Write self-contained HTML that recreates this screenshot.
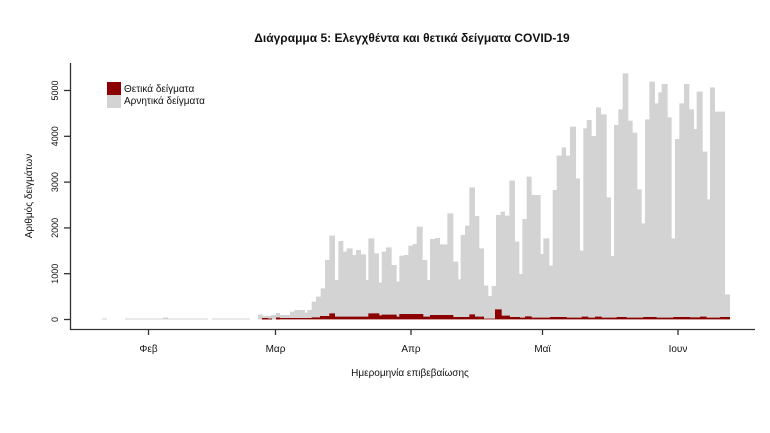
<!DOCTYPE html>
<html><head><meta charset="utf-8"><style>
html,body{margin:0;padding:0;background:#fff;width:770px;height:433px;overflow:hidden}
svg text{font-family:"Liberation Sans","DejaVu Sans",sans-serif;fill:#111}
</style></head><body>
<svg width="770" height="433" viewBox="0 0 770 433" xmlns="http://www.w3.org/2000/svg">
<text x="385" y="-2" font-size="10" fill="#3355cc" text-anchor="middle">.</text>
<text x="412" y="42" font-size="12" font-weight="bold" text-anchor="middle">Διάγραμμα 5: Ελεγχθέντα και θετικά δείγματα COVID-19</text>
<!-- small early bars -->
<g fill="#d3d3d3">
<rect x="102" y="318.5" width="5" height="1"/>
<rect x="125" y="318.5" width="83" height="1"/>
<rect x="163" y="317.5" width="5" height="2"/>
<rect x="212" y="318.5" width="38" height="1"/>
<rect x="258" y="314.5" width="5" height="5"/>
<rect x="263" y="316" width="8" height="3.5"/>
<rect x="271" y="315" width="5" height="4.5"/>
<rect x="276" y="313" width="4" height="6.5"/>
</g>
<g transform="translate(280,60) scale(0.33333)" fill="#d3d3d3">
<path id="g" d="M0,778 V765 H30 V755 H43 V750 H75 V758 H82 V750 H95 V725 H108 V710 H122 V685 H135 V600 H148 V527 H165 V660 H175 V543 H190 V575 H200 V565 H218 V585 H228 V570 H243 V583 H258 V660 H265 V535 H283 V580 H297 V668 H305 V575 H318 V562 H335 V615 H350 V665 H358 V587 H372 V585 H385 V557 H398 V552 H410 V500 H428 V600 H442 V660 H450 V537 H465 V534 H480 V553 H502 V460 H520 V605 H535 V658 H542 V525 H555 V497 H568 V382 H585 V468 H598 V565 H612 V677 H625 V708 H635 V678 H648 V465 H662 V455 H675 V467 H688 V362 H705 V545 H718 V642 H727 V477 H740 V350 H755 V405 H782 V582 H790 V535 H808 V617 H818 V390 H830 V287 H845 V262 H858 V287 H870 V200 H888 V355 H900 V572 H910 V205 H920 V180 H935 V228 H948 V142 H963 V163 H980 V412 H993 V588 H1002 V195 H1015 V148 H1028 V40 H1045 V182 H1058 V218 H1072 V388 H1085 V490 H1095 V178 H1108 V65 H1125 V130 H1135 V97 H1145 V72 H1163 V172 H1175 V535 H1185 V237 H1198 V130 H1212 V72 H1228 V148 H1242 V207 H1250 V95 H1268 V275 H1282 V418 H1290 V82 H1305 V155 H1335 V703 H1350 V778 Z"/>
</g>
<g transform="translate(280,60) scale(0.33333)" fill="#8b0000">
<path d="M0,778 V774 H95 V772 H120 V768 H148 V760 H165 V770 H265 V760 H298 V766 H305 V764 H350 V770 H358 V762 H430 V770 H450 V765 H520 V771 H568 V763 H585 V770 H612 V776 H645 V748 H665 V767 H690 V771 H720 V773 H735 V769 H755 V773 H810 V771 H860 V773 H905 V770 H925 V773 H945 V770 H965 V773 H1010 V771 H1040 V773 H1090 V771 H1130 V773 H1180 V771 H1230 V772 H1260 V770 H1280 V773 H1320 V771 H1350 V778 Z"/>
</g>
<g fill="#8b0000">
<rect x="262" y="318" width="6" height="1.5"/>
<rect x="268" y="318.5" width="4" height="1"/>
<rect x="276" y="317.5" width="4" height="2"/>
</g>
<!-- axes -->
<g stroke="#333" stroke-width="1.3" fill="none">
<line x1="70.5" y1="63" x2="70.5" y2="329.5"/>
<line x1="70" y1="329.5" x2="755" y2="329.5"/>
<line x1="64" y1="319.5" x2="70.5" y2="319.5"/>
<line x1="64" y1="273.7" x2="70.5" y2="273.7"/>
<line x1="64" y1="227.9" x2="70.5" y2="227.9"/>
<line x1="64" y1="182.1" x2="70.5" y2="182.1"/>
<line x1="64" y1="136.3" x2="70.5" y2="136.3"/>
<line x1="64" y1="90.5" x2="70.5" y2="90.5"/>
<line x1="148.5" y1="329.5" x2="148.5" y2="335"/>
<line x1="275.5" y1="329.5" x2="275.5" y2="335"/>
<line x1="411" y1="329.5" x2="411" y2="335"/>
<line x1="542.5" y1="329.5" x2="542.5" y2="335"/>
<line x1="678" y1="329.5" x2="678" y2="335"/>
</g>
<g font-size="9" text-anchor="middle">
<text transform="translate(58,319.5) rotate(-90)">0</text>
<text transform="translate(58,273.7) rotate(-90)">1000</text>
<text transform="translate(58,227.9) rotate(-90)">2000</text>
<text transform="translate(58,182.1) rotate(-90)">3000</text>
<text transform="translate(58,136.3) rotate(-90)">4000</text>
<text transform="translate(58,90.5) rotate(-90)">5000</text>
</g>
<g font-size="10" text-anchor="middle">
<text x="148.5" y="352">Φεβ</text>
<text x="275.5" y="352">Μαρ</text>
<text x="411" y="352">Απρ</text>
<text x="542.5" y="352">Μαϊ</text>
<text x="678" y="352">Ιουν</text>
<text x="410" y="376">Ημερομηνία επιβεβαίωσης</text>
<text transform="translate(32,196) rotate(-90)">Αριθμός δειγμάτων</text>
</g>
<rect x="107" y="82" width="14" height="13" fill="#8b0000"/>
<rect x="107" y="95" width="14" height="13" fill="#d3d3d3"/>
<g font-size="10">
<text x="124" y="92">Θετικά δείγματα</text>
<text x="124" y="104">Αρνητικά δείγματα</text>
</g>
</svg>
</body></html>
